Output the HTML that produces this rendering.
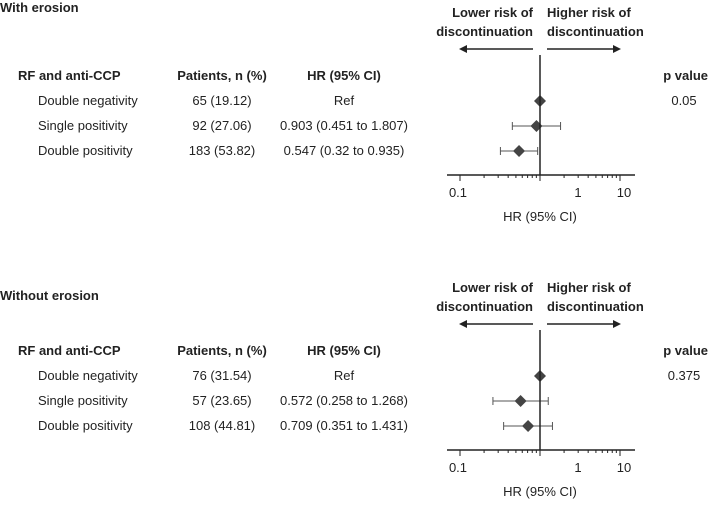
<!DOCTYPE html>
<html><head><meta charset="utf-8"><style>
body{margin:0;background:#fff}
svg text{font-family:"Liberation Sans",Arial,sans-serif;fill:#222;font-size:13px}
.b{font-weight:bold}
</style></head><body>
<svg id="c" width="708" height="501" viewBox="0 0 708 501"></svg>
<script>
const panelTitles=["With erosion","Without erosion"];
const categories=["Double negativity","Single positivity","Double positivity"];
const patients=[["65 (19.12)","92 (27.06)","183 (53.82)"],["76 (31.54)","57 (23.65)","108 (44.81)"]];
const hrLabels=[["Ref","0.903 (0.451 to 1.807)","0.547 (0.32 to 0.935)"],["Ref","0.572 (0.258 to 1.268)","0.709 (0.351 to 1.431)"]];
const hr=[[1,0.903,0.547],[1,0.572,0.709]];
const lo=[[null,0.451,0.32],[null,0.258,0.351]];
const hi=[[null,1.807,0.935],[null,1.268,1.431]];
const pvals=["0.05","0.375"];
const tickLabels=["0.1","1","10"];
const svg=document.getElementById('c');
const NS="http://www.w3.org/2000/svg";
function el(t,a,txt){const e=document.createElementNS(NS,t);for(const k in a)e.setAttribute(k,a[k]);if(txt!=null)e.textContent=txt;svg.appendChild(e);return e;}
function xs(v){return 540+80*Math.log10(v);}
const offs=[0,275];
offs.forEach((o,p)=>{
 let t=el('text',{x:0,y:(p?300:12),class:'b'},panelTitles[p]);
 
 t=el('text',{x:533,y:17+o,'text-anchor':'end',class:'b'},'Lower risk of');
 t=el('text',{x:533,y:36+o,'text-anchor':'end',class:'b'},'discontinuation');
 t=el('text',{x:547,y:17+o,class:'b'},'Higher risk of');
 t=el('text',{x:547,y:36+o,class:'b'},'discontinuation');
 let a=el('path',{d:`M533 ${49+o}H465`,stroke:'#222','stroke-width':1.5});
 el('path',{d:`M459 ${49+o}l8 -4v8z`,fill:'#222'});
 a=el('path',{d:`M547 ${49+o}H615`,stroke:'#222','stroke-width':1.5});
 el('path',{d:`M621 ${49+o}l-8 -4v8z`,fill:'#222'});
 const hy=80+o;
 [['RF and anti-CCP',18,'start'],['Patients, n (%)',222,'middle'],['HR (95% CI)',344,'middle'],['p value',708,'end']].forEach(h=>{
  const e=el('text',{x:h[1],y:hy,'text-anchor':h[2],class:'b'},h[0]);});
 categories.forEach((c,i)=>{
  const y=101+i*25+o;
  let e=el('text',{x:38,y:y+4},c);
  e=el('text',{x:222,y:y+4,'text-anchor':'middle'},patients[p][i]);
  e=el('text',{x:344,y:y+4,'text-anchor':'middle'},hrLabels[p][i]);
  if(lo[p][i]!=null){
   const x1=xs(lo[p][i]),x2=xs(hi[p][i]);
   e=el('path',{d:`M${x1} ${y}H${x2}M${x1} ${y-4}v8M${x2} ${y-4}v8`,stroke:'#555','stroke-width':1});
   
  }
  const x=xs(hr[p][i]);
  e=el('path',{d:`M${x} ${y-6}l6 6l-6 6l-6 -6z`,fill:'#444'});
  
 });
 let e=el('text',{x:684,y:105+o,'text-anchor':'middle'},pvals[p]);
 e=el('path',{d:`M${xs(1)} ${55+o}V${175+o}`,stroke:'#222','stroke-width':1.5});
 e=el('path',{d:`M447 ${175+o}H635`,stroke:'#222','stroke-width':1.5});
 let d='';
 [0.1,1,10].forEach(v=>{d+=`M${xs(v)} ${175+o}v6`;});
 for(let dec of [0.1,1])for(let k=2;k<=9;k++)d+=`M${xs(dec*k)} ${175+o}v3`;
 e=el('path',{d:d,stroke:'#222','stroke-width':1});
 [[tickLabels[0],458],[tickLabels[1],578],[tickLabels[2],624]].forEach(tl=>{
  const q=el('text',{x:tl[1],y:197+o,'text-anchor':'middle'},tl[0]);});
 e=el('text',{x:540,y:221+o,'text-anchor':'middle'},'HR (95% CI)');
});
</script>
</body></html>
